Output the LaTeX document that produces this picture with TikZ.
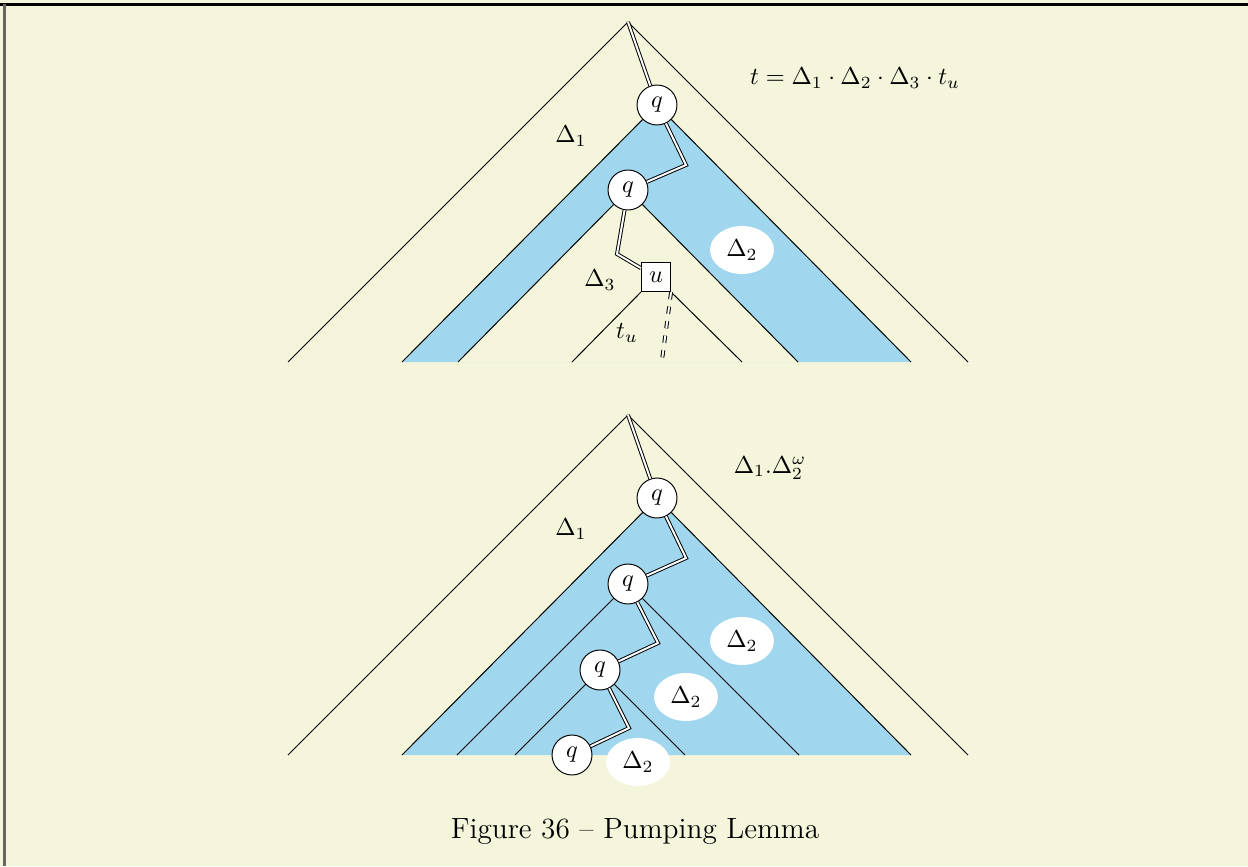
\documentclass[tikz,border=0pt]{standalone}
\usetikzlibrary{shapes.geometric}
\definecolor{paper}{RGB}{245,245,220}
\definecolor{bandblue}{RGB}{160,215,238}
\tikzset{
  qnode/.style={circle,draw,fill=white,minimum size=0.576cm,inner sep=0pt},
  leafbox/.style={rectangle,draw,fill=white,minimum size=0.42cm,inner sep=0pt},
  hole/.style={ellipse,fill=white,minimum width=0.92cm,minimum height=0.69cm,inner sep=0pt},
  run/.style={double,double distance=0.8pt},
}
\begin{document}
\begin{tikzpicture}[x=0.0144cm,y=-0.0144cm]
  % page
  \fill[paper] (0,0) rectangle (1248,866);
  \useasboundingbox (0,0) rectangle (1248,866);
  \draw[line width=1.1pt] (0,4.5) -- (1248,4.5);
  \draw[line width=1.1pt,gray!80!black] (4.5,4.5) -- (4.5,866);

  % ===== upper tree : t = D1.D2.D3.t_u
  \coordinate (r1) at (628,22);
  \foreach \n/\x in {o1l/288,b1l/402,c1l/458,u1l/572,u1r/742,c1r/798,b1r/911,o1r/968}
    \coordinate (\n) at (\x,362);
  \fill[bandblue] (657,105) -- (b1l) -- (b1r) -- cycle;
  \fill[paper] (628,190) -- (c1l) -- (c1r) -- cycle;
  \node[qnode] (p1) at (657,105) {$q$};
  \node[qnode] (p2) at (628,190) {$q$};
  \node[leafbox] (u) at (656,277) {$u$};
  \coordinate (k1) at (686,165);
  \coordinate (k2) at (617,254);
  \coordinate (tail) at (662,360);
  % outer triangle and the two nested ones
  \draw (o1l) -- (r1) -- (o1r);
  \draw (b1l) -- (p1) -- (b1r);
  \draw (c1l) -- (p2) -- (c1r);
  \draw (u1l) -- (u.south west);
  \draw (u.south east) -- (u1r);
  % the run
  \draw[run] (r1) -- (p1);
  \draw[run] (p1) -- (k1) -- (p2);
  \draw[run] (p2) -- (k2) -- (u);
  \draw[run,dashed] (u.south east) -- (tail);
  % labels
  \node[hole] (d2) at (742,250) {$\Delta_2$};
  \node (d1) at (571,136) {$\Delta_1$};
  \node (d3) at (600,280) {$\Delta_3$};
  \node (tu) at (627,333) {$t_u$};
  \node (eq) at (855,78) {$t = \Delta_1 \cdot \Delta_2 \cdot \Delta_3 \cdot t_u$};

  % ===== lower tree : D1.D2^omega
  \coordinate (r2) at (628,415);
  \foreach \n/\x in {o2l/288,b2l/402,c2l/457,e2l/515,e2r/685,c2r/799,b2r/911,o2r/968}
    \coordinate (\n) at (\x,755);
  \fill[bandblue] (657,498) -- (b2l) -- (b2r) -- cycle;
  \node[qnode] (s1) at (657,498) {$q$};
  \node[qnode] (s2) at (628,584) {$q$};
  \node[qnode] (s3) at (600,670) {$q$};
  \coordinate (m1) at (686,558);
  \coordinate (m2) at (658,643);
  \coordinate (m3) at (629,728);
  \draw (o2l) -- (r2) -- (o2r);
  \draw (b2l) -- (s1) -- (b2r);
  \draw (c2l) -- (s2) -- (c2r);
  \draw (e2l) -- (s3) -- (e2r);
  \node[qnode] (s4) at (572,755) {$q$};
  % the pumped run
  \draw[run] (r2) -- (s1);
  \draw[run] (s1) -- (m1) -- (s2);
  \draw[run] (s2) -- (m2) -- (s3);
  \draw[run] (s3) -- (m3) -- (s4);
  % labels
  \node[hole] (f1) at (742,641) {$\Delta_2$};
  \node[hole] (f2) at (686,697) {$\Delta_2$};
  \node[hole] (f3) at (638,762) {$\Delta_2$};
  \node (g1) at (571,529) {$\Delta_1$};
  \node[inner sep=1pt] (om) at (770,468) {$\Delta_1.\Delta_2^\omega$};

  \node (cap) at (635,831) {\large Figure 36 -- Pumping Lemma};
\end{tikzpicture}
\end{document}
